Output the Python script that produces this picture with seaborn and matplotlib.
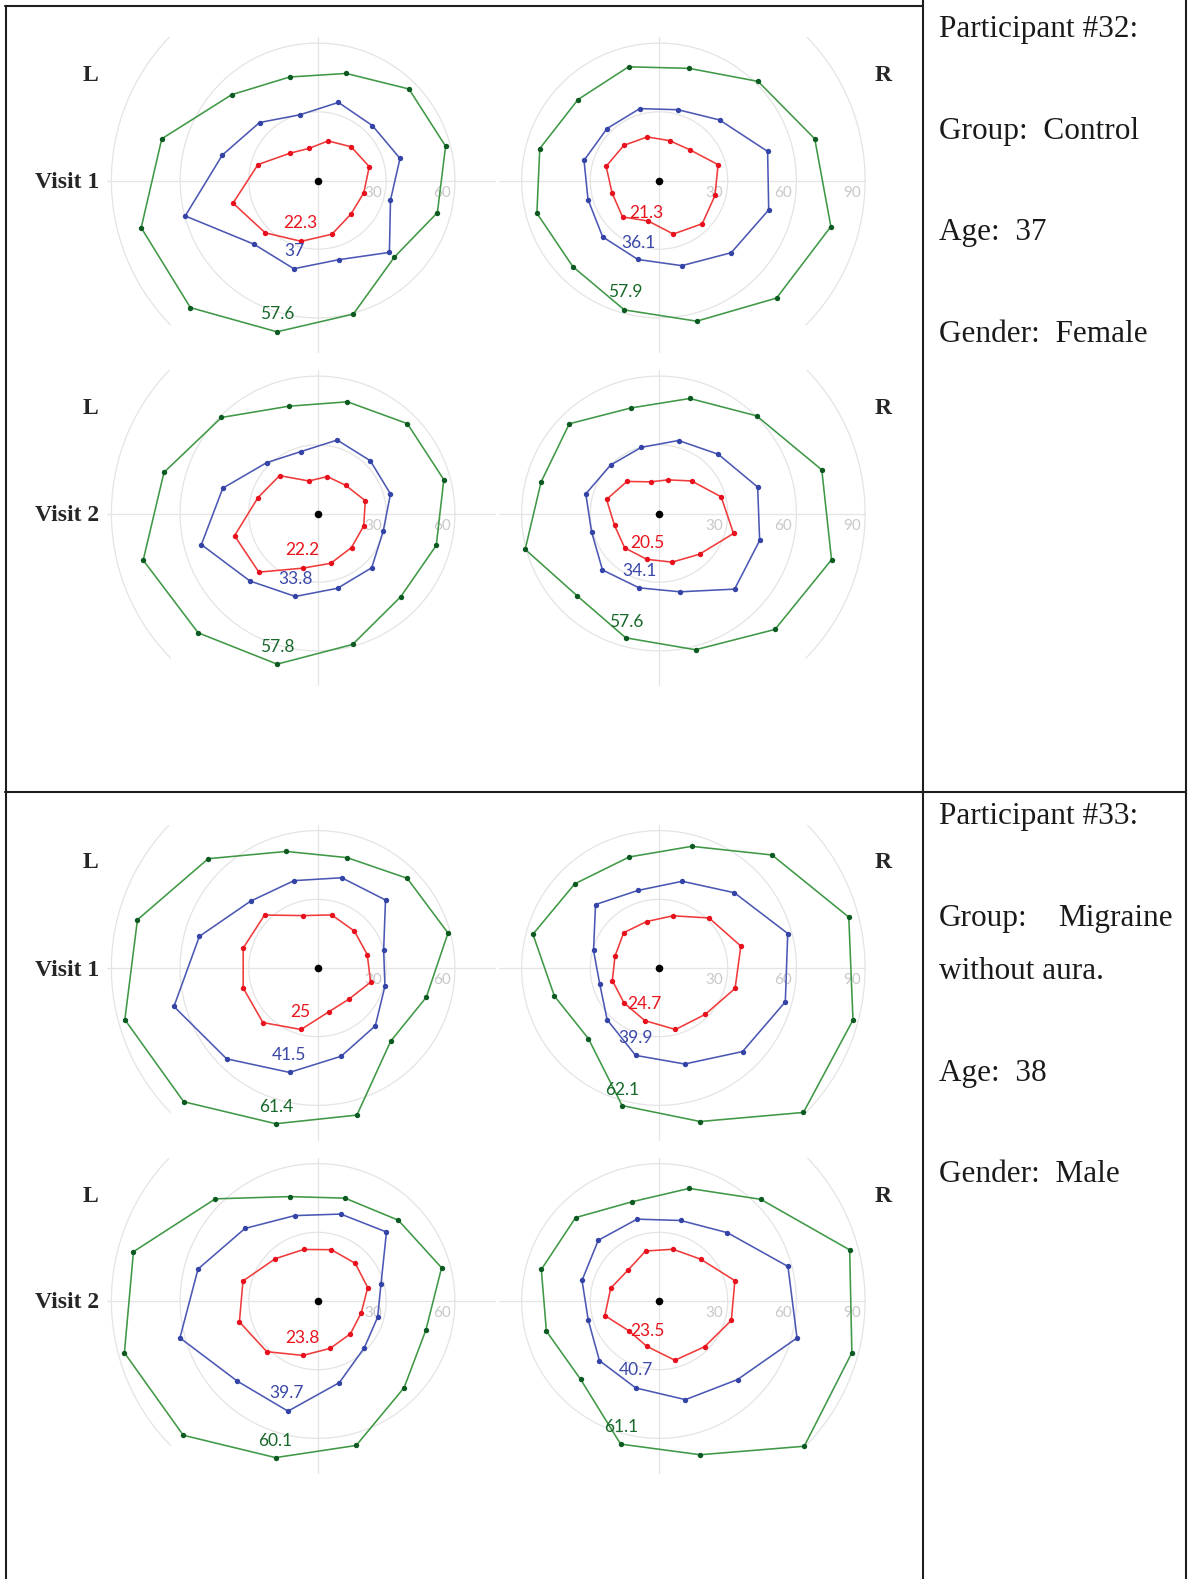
import numpy as np
import pandas as pd
import matplotlib
matplotlib.use("Agg")
import matplotlib.pyplot as plt
import seaborn as sns

sns.set_style("white")
plt.rcParams['font.family'] = ['Liberation Serif', 'DejaVu Serif']

# isopter radii (deg) on the meridians 15, 45, ..., 345
meridians = np.arange(15, 360, 30)

# participant 32, visit 1
p32_v1_l_red = [23.4, 20.8, 17.9, 14.5, 16.9, 26.9, 38.2, 32.3, 27.5, 24.3, 20.7, 20.9]
p32_v1_l_blue = [37.3, 33.9, 35.3, 29.7, 35.8, 43.0, 59.8, 39.3, 39.9, 35.8, 44.4, 33.0]
p32_v1_l_green = [57.9, 56.5, 48.4, 46.8, 53.0, 70.4, 79.7, 78.5, 68.4, 60.4, 47.4, 54.2]
p32_v1_r_red = [26.7, 19.0, 18.0, 19.7, 21.7, 23.9, 21.2, 22.5, 18.3, 24.2, 26.7, 25.3]
p32_v1_r_blue = [49.1, 37.4, 32.0, 32.5, 32.1, 33.9, 32.1, 34.8, 35.7, 38.5, 44.6, 49.6]
p32_v1_r_green = [70.4, 61.2, 50.7, 51.4, 50.0, 53.9, 55.2, 53.2, 58.5, 63.6, 72.6, 77.7]
# participant 32, visit 2
p32_v2_l_red = [21.6, 17.4, 16.7, 14.7, 23.4, 26.9, 37.5, 36.2, 24.7, 22.5, 21.0, 20.9]
p32_v2_l_blue = [33.0, 32.6, 33.2, 28.0, 31.4, 42.8, 52.5, 41.7, 37.5, 33.8, 33.5, 29.7]
p32_v2_l_green = [57.1, 55.5, 50.5, 48.5, 59.3, 69.4, 78.8, 73.7, 68.1, 59.2, 51.4, 53.7]
p32_v2_r_red = [28.1, 20.1, 15.2, 14.3, 19.8, 23.7, 20.1, 21.2, 20.7, 22.0, 25.1, 33.7]
p32_v2_r_blue = [44.6, 36.6, 33.0, 29.9, 29.9, 33.1, 30.5, 34.9, 33.6, 35.4, 46.7, 45.5]
p32_v2_r_green = [73.6, 60.3, 52.0, 47.7, 55.4, 53.3, 60.5, 50.7, 56.2, 61.6, 71.6, 78.0]
# participant 33, visit 1
p33_v1_l_red = [22.5, 22.8, 24.0, 23.7, 32.7, 33.6, 33.6, 33.7, 27.8, 19.7, 19.3, 24.0]
p33_v1_l_blue = [29.9, 42.0, 40.8, 39.5, 41.3, 53.4, 64.9, 56.1, 47.2, 39.9, 35.7, 30.5]
p33_v1_l_green = [59.0, 55.4, 49.9, 52.7, 67.5, 81.4, 87.1, 82.6, 70.4, 66.5, 45.2, 49.2]
p33_v1_r_red = [37.0, 30.9, 23.6, 21.0, 21.8, 19.9, 21.1, 21.6, 23.8, 27.8, 28.6, 34.4]
p33_v1_r_blue = [58.2, 46.5, 39.2, 35.1, 39.2, 29.6, 26.8, 32.0, 39.5, 43.4, 51.6, 57.1]
p33_v1_r_green = [85.8, 69.8, 55.0, 50.2, 52.0, 57.0, 47.3, 43.6, 62.2, 69.4, 89.2, 87.7]
# participant 33, visit 2
p33_v2_l_red = [22.7, 23.3, 23.2, 23.3, 26.1, 33.7, 35.3, 31.3, 24.6, 21.4, 20.3, 19.8]
p33_v2_l_blue = [28.7, 42.6, 39.3, 38.6, 44.8, 54.0, 62.2, 49.5, 49.8, 36.9, 28.9, 27.2]
p33_v2_l_green = [56.1, 49.9, 46.5, 47.2, 63.1, 83.2, 87.3, 82.9, 70.8, 65.3, 53.5, 49.0]
p33_v2_r_red = [34.3, 25.8, 23.4, 22.6, 19.1, 21.8, 24.5, 18.5, 20.5, 26.8, 28.2, 32.7]
p33_v2_r_blue = [58.3, 42.2, 36.4, 37.0, 37.5, 34.8, 32.0, 36.8, 39.3, 44.6, 48.5, 62.4]
p33_v2_r_green = [86.2, 62.8, 50.9, 44.9, 51.5, 53.2, 50.9, 48.4, 64.7, 69.5, 89.7, 87.2]

# mean isopter values printed on each plot (red, blue, green)
p32_v1_l_means = ["22.3", "37", "57.6"]
p32_v1_r_means = ["21.3", "36.1", "57.9"]
p32_v2_l_means = ["22.2", "33.8", "57.8"]
p32_v2_r_means = ["20.5", "34.1", "57.6"]
p33_v1_l_means = ["25", "41.5", "61.4"]
p33_v1_r_means = ["24.7", "39.9", "62.1"]
p33_v2_l_means = ["23.8", "39.7", "60.1"]
p33_v2_r_means = ["23.5", "40.7", "61.1"]

participants = [
    ["Participant #32:", "Group:  Control", "Age:  37", "Gender:  Female"],
    ["Participant #33:", "Group:", "without aura.", "Age:  38", "Gender:  Male"],
]

panels = [
    ("L", 1, (p32_v1_l_red, p32_v1_l_blue, p32_v1_l_green), p32_v1_l_means),
    ("R", 1, (p32_v1_r_red, p32_v1_r_blue, p32_v1_r_green), p32_v1_r_means),
    ("L", 2, (p32_v2_l_red, p32_v2_l_blue, p32_v2_l_green), p32_v2_l_means),
    ("R", 2, (p32_v2_r_red, p32_v2_r_blue, p32_v2_r_green), p32_v2_r_means),
    ("L", 1, (p33_v1_l_red, p33_v1_l_blue, p33_v1_l_green), p33_v1_l_means),
    ("R", 1, (p33_v1_r_red, p33_v1_r_blue, p33_v1_r_green), p33_v1_r_means),
    ("L", 2, (p33_v2_l_red, p33_v2_l_blue, p33_v2_l_green), p33_v2_l_means),
    ("R", 2, (p33_v2_r_red, p33_v2_r_blue, p33_v2_r_green), p33_v2_r_means),
]
# where the mean labels sit (radius in deg) for each panel, red/blue/green
label_r = [(20.2, 32.3, 60.9), (15.2, 28.8, 51.0), (17.4, 30.3, 60.7), (13.7, 26.4, 49.5),
           (20.5, 39.9, 63.3), (16.8, 32.2, 55.6), (17.4, 42.5, 63.6), (13.9, 32.0, 57.4)]
label_ang = (248, 251.5, 253.3)

line_cols = ["#f03a3a", "#4b58b3", "#3f9845"]
dot_cols = ["#e8101c", "#3343a6", "#0c5a22"]
text_cols = ["#e8141e", "#3a48a8", "#17682a"]
grid_c = "#e4e4e4"

W, H = 1188, 1579
S = 2.29  # pixels per degree
col_x = {"L": 317.5, "R": 659}
row_y = [180.5, 180.5, 513.5, 513.5, 968, 968, 1301, 1301]

fig = plt.figure(figsize=(W / 100, H / 100), dpi=100)
fig.patch.set_facecolor("white")

t = np.linspace(0, 2 * np.pi, 721)
for i, (eye, visit, series, means) in enumerate(panels):
    cx, cy = col_x[eye], row_y[i]
    if eye == "L":
        xmin, xmax = -92, 78
    else:
        xmin, xmax = -70, 90.5
    ymin, ymax = -75.5, 62.5
    ax = fig.add_axes([(cx + xmin * S) / W, 1 - (cy - ymin * S) / H,
                       (xmax - xmin) * S / W, (ymax - ymin) * S / H])
    ax.set_xlim(xmin, xmax)
    ax.set_ylim(ymin, ymax)
    ax.axis("off")

    # grid rings and cross
    for ring in (30, 60, 90):
        gx = ring * np.cos(t)
        gy = ring * np.sin(t)
        hide = gy < -63.5
        if ring == 90:
            hide |= (gx > 0) if eye == "L" else (gx < 0)
        gy = np.where(hide, np.nan, gy)
        ax.plot(gx, gy, color=grid_c, lw=0.9, zorder=1)
        if ring - 5.7 < xmax - 4:
            ax.text(ring - 5.7, -5.3, str(ring), color="#c8c8c8", fontsize=11,
                    family="Lato", ha="center", va="center", zorder=2)
    ax.axhline(0, color=grid_c, lw=0.9, zorder=1)
    ax.axvline(0, color=grid_c, lw=0.9, zorder=1)

    th = np.deg2rad(np.append(meridians, meridians[0]))
    for k in (2, 1, 0):
        r = np.append(series[k], series[k][0])
        df = pd.DataFrame({"x": r * np.cos(th), "y": r * np.sin(th)})
        sns.lineplot(data=df, x="x", y="y", sort=False, estimator=None,
                     color=line_cols[k], linewidth=1.15, ax=ax, zorder=3)
        sns.scatterplot(data=df.iloc[:-1], x="x", y="y", color=dot_cols[k],
                        s=15, linewidth=0, ax=ax, zorder=4)
        a = np.deg2rad(label_ang[k])
        ax.text(label_r[i][k] * np.cos(a), label_r[i][k] * np.sin(a), means[k],
                color=text_cols[k], fontsize=12.5, family="Lato",
                ha="center", va="center", zorder=5)
    sns.scatterplot(x=[0], y=[0], color="black", s=30, linewidth=0, ax=ax, zorder=6)
    ax.set_xlim(xmin, xmax)
    ax.set_ylim(ymin, ymax)

    # row / eye labels
    if eye == "L":
        fig.text(90.6 / W, 1 - (cy - 105) / H, "L", fontsize=17, weight="bold",
                 ha="center", va="center")
        fig.text(67.5 / W, 1 - (cy + 2) / H, "Visit " + str(visit), fontsize=17,
                 weight="bold", ha="center", va="center")
    else:
        fig.text(883 / W, 1 - (cy - 105) / H, "R", fontsize=17, weight="bold",
                 ha="center", va="center")

# table lines
def tline(x0, y0, x1, y1):
    fig.add_artist(plt.Line2D([x0 / W, x1 / W], [1 - y0 / H, 1 - y1 / H],
                              color="#1e1e1e", lw=1.5))

tline(5, 6, 923, 6)
tline(5.5, 6, 5.5, H)
tline(922.5, 0, 922.5, H)
tline(1186, 0, 1186, H)
tline(5, 791.5, 1186, 791.5)

# participant info
info_y = [[29, 131, 232.5, 335], [816.5, 918.5, 971.5, 1073, 1175]]
for lines, ys in zip(participants, info_y):
    for s, y in zip(lines, ys):
        fig.text(939 / W, 1 - y / H, s, fontsize=22.5, color="#1a1a1a",
                 ha="left", va="center")
fig.text(1173 / W, 1 - info_y[1][1] / H, "Migraine", fontsize=22.5, color="#1a1a1a",
         ha="right", va="center")

plt.savefig("out.png", dpi=100, facecolor="white")
